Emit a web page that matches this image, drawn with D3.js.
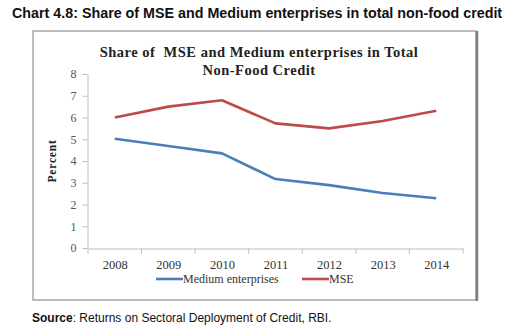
<!DOCTYPE html>
<html>
<head>
<meta charset="utf-8">
<script src="https://cdn.jsdelivr.net/npm/d3@7"></script>
<style>
  body { margin: 0; background: #fff; }
  svg { display: block; }
</style>
</head>
<body>
<svg width="519" height="334"></svg>
<script>
// data
var years = ["2008", "2009", "2010", "2011", "2012", "2013", "2014"];
var medium = [5.02, 4.69, 4.35, 3.17, 2.89, 2.53, 2.29];
var mse = [6.0, 6.5, 6.79, 5.73, 5.5, 5.84, 6.31];
var yTicks = [0, 1, 2, 3, 4, 5, 6, 7, 8];

var series = [
  { name: "Medium enterprises", values: medium, color: "#4a7ebb" },
  { name: "MSE", values: mse, color: "#be4b48" }
];

var svg = d3.select("svg");
var serif = "'Liberation Serif', 'DejaVu Serif', serif";
var sans = "'Liberation Sans', Arial, sans-serif";

// page heading
svg.append("text")
    .attr("x", 12)
    .attr("y", 18)
    .attr("font-family", sans)
    .attr("font-weight", "bold")
    .attr("font-size", 14.3)
    .attr("fill", "#111")
    .text("Chart 4.8: Share of MSE and Medium enterprises in total non-food credit");

// chart frame
svg.append("rect")
    .attr("x", 33).attr("y", 31)
    .attr("width", 443).attr("height", 269)
    .attr("fill", "#fff")
    .attr("stroke", "#a6a6a6")
    .attr("stroke-width", 1.5);
svg.append("line")
    .attr("x1", 477).attr("x2", 477)
    .attr("y1", 31).attr("y2", 301)
    .attr("stroke", "#7f7f7f").attr("stroke-width", 2.5);

// chart title
var title = svg.append("text")
    .attr("text-anchor", "middle")
    .attr("font-family", serif)
    .attr("font-weight", "bold")
    .attr("font-size", 14.5)
    .attr("letter-spacing", 0.5)
    .attr("fill", "#222")
    .style("white-space", "pre");
title.append("tspan").attr("x", 259).attr("y", 57).text("Share of  MSE and Medium enterprises in Total");
title.append("tspan").attr("x", 259).attr("y", 75).text("Non-Food Credit");

// scales
var xScale = d3.scalePoint()
    .domain(years)
    .range([88, 463])
    .padding(0.5);

var yScale = d3.scaleLinear()
    .domain([0, 8])
    .range([248, 74]);

// axes
var yAxis = d3.axisLeft(yScale)
    .tickValues(yTicks)
    .tickSize(5)
    .tickSizeOuter(0)
    .tickPadding(6);

var gy = svg.append("g")
    .attr("transform", "translate(87.5,0)")
    .call(yAxis);
gy.select(".domain").attr("stroke", "#bdbdbd");
gy.selectAll(".tick line").attr("stroke", "#bdbdbd");
gy.selectAll(".tick text")
    .attr("font-family", serif)
    .attr("font-size", 12)
    .attr("fill", "#555");

var xAxis = d3.axisBottom(xScale)
    .tickSize(0)
    .tickPadding(12);

var gx = svg.append("g")
    .attr("transform", "translate(0,248.5)")
    .call(xAxis);
gx.select(".domain").attr("stroke", "#bdbdbd");
gx.selectAll(".tick text")
    .attr("font-family", serif)
    .attr("font-size", 12.5)
    .attr("fill", "#333");

// x tick marks between categories
var step = xScale.step();
var boundaries = years.map(function(d) { return xScale(d) - step / 2; })
    .concat([xScale(years[years.length - 1]) + step / 2]);
gx.selectAll(".sep")
    .data(boundaries)
    .enter().append("line")
    .attr("x1", function(d) { return d; })
    .attr("x2", function(d) { return d; })
    .attr("y1", 0).attr("y2", 5)
    .attr("stroke", "#bdbdbd");

// y label
svg.append("text")
    .attr("transform", "translate(56,161) rotate(-90)")
    .attr("text-anchor", "middle")
    .attr("font-family", serif)
    .attr("font-weight", "bold")
    .attr("font-size", 11.5)
    .attr("letter-spacing", 0.8)
    .attr("fill", "#222")
    .text("Percent");

// lines
var line = d3.line()
    .x(function(d, i) { return xScale(years[i]); })
    .y(function(d) { return yScale(d); });

svg.selectAll(".series")
    .data(series)
    .enter().append("path")
    .attr("class", "series")
    .attr("fill", "none")
    .attr("stroke", function(d) { return d.color; })
    .attr("stroke-width", 2.6)
    .attr("stroke-linejoin", "round")
    .attr("d", function(d) { return line(d.values); });

// legend
var legendX = [156, 302];
var lg = svg.selectAll(".legend")
    .data(series)
    .enter().append("g")
    .attr("transform", function(d, i) { return "translate(" + legendX[i] + ",279)"; });
lg.append("line")
    .attr("x1", 0).attr("x2", 27)
    .attr("stroke", function(d) { return d.color; })
    .attr("stroke-width", 2.6);
lg.append("text")
    .attr("x", 27)
    .attr("y", 4)
    .attr("font-family", serif)
    .attr("font-size", 12)
    .attr("fill", "#333")
    .text(function(d) { return d.name; });

// source
var src = svg.append("text")
    .attr("x", 32)
    .attr("y", 322)
    .attr("font-family", sans)
    .attr("font-size", 12)
    .attr("fill", "#111");
src.append("tspan").attr("font-weight", "bold").text("Source");
src.append("tspan").text(": Returns on Sectoral Deployment of Credit, RBI.");
</script>
</body>
</html>
